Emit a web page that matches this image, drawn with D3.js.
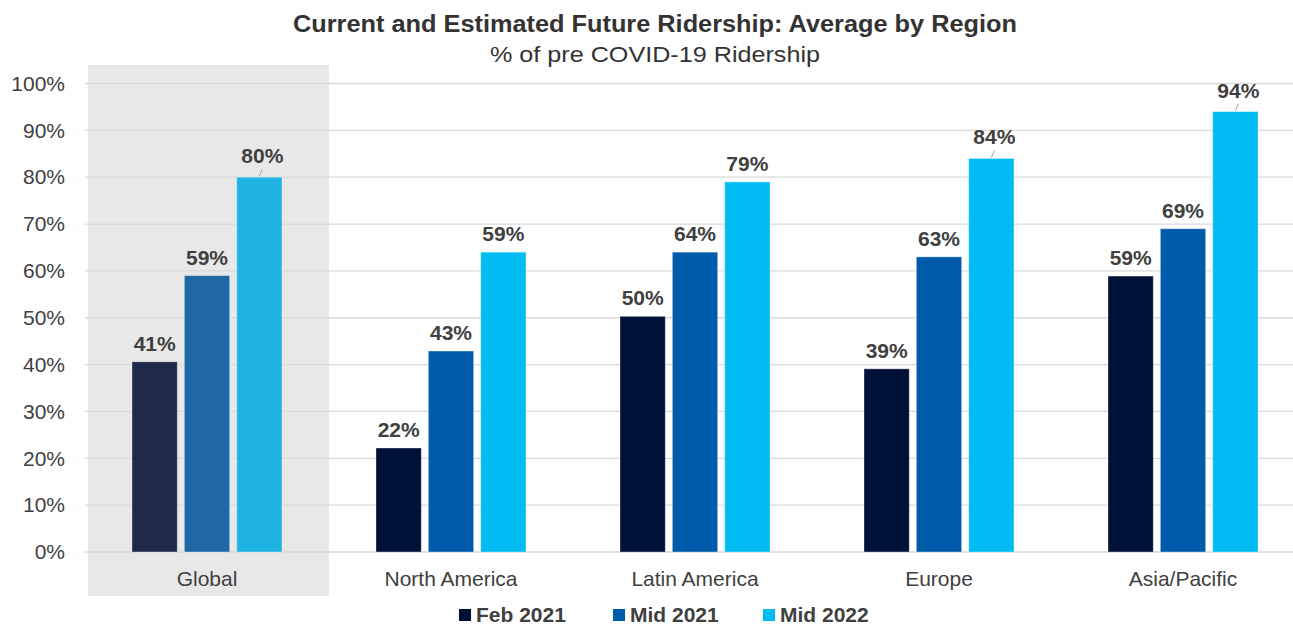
<!DOCTYPE html>
<html>
<head>
<meta charset="utf-8">
<script src="https://cdn.jsdelivr.net/npm/d3@7"></script>
<style>
  body { margin: 0; background: #fff; }
  text { font-family: Arial, "Liberation Sans", sans-serif; }
</style>
</head>
<body>
<svg id="viz"></svg>
<script>
const width = 1293;
const height = 626;

// data
const regions = ["Global", "North America", "Latin America", "Europe", "Asia/Pacific"];
const series = ["Feb 2021", "Mid 2021", "Mid 2022"];
const feb2021 = [40.6, 22.2, 50.3, 39.1, 58.9];
const mid2021 = [59, 42.9, 64, 63, 69];
const mid2022 = [80, 64, 79, 84, 94];
const feb2021Labels = ["41%", "22%", "50%", "39%", "59%"];
const mid2021Labels = ["59%", "43%", "64%", "63%", "69%"];
const mid2022Labels = ["80%", "59%", "79%", "84%", "94%"];
const yTicks = [0, 10, 20, 30, 40, 50, 60, 70, 80, 90, 100];

const colors = ["#001137", "#005cab", "#00bcf2"];
const globalColors = ["#1f2a4a", "#1f67a5", "#1fb4e1"];
const leaderRegions = ["Global", "Europe", "Asia/Pacific"];

const values = [feb2021, mid2021, mid2022];
const labels = [feb2021Labels, mid2021Labels, mid2022Labels];

const rows = [];
regions.forEach(function (r, i) {
    series.forEach(function (s, j) {
        rows.push({ region: r, series: s, si: j, value: values[j][i], label: labels[j][i] });
    });
});

const svg = d3.select("#viz").attr("width", width).attr("height", height);

const x0 = d3.scaleBand().domain(regions).range([85, 1305]).padding(0);
const x1 = d3.scaleBand().domain(series).range([47, 197]).paddingInner(0.135).paddingOuter(0);
const y = d3.scaleLinear().domain([0, 100]).range([552, 83.5]);

// shaded Global panel
svg.append("rect")
    .attr("x", x0("Global") + 3)
    .attr("y", 65)
    .attr("width", x0.bandwidth() - 3)
    .attr("height", 531)
    .attr("fill", "#e8e8e8");

// gridlines
svg.append("g")
    .selectAll("line")
    .data(yTicks)
    .enter()
    .append("line")
    .attr("x1", 85)
    .attr("x2", width)
    .attr("y1", function (d) { return y(d); })
    .attr("y2", function (d) { return y(d); })
    .attr("stroke", "#d9d9d9")
    .attr("stroke-width", 1.3);

// y axis labels
const yAxis = d3.axisLeft(y).tickValues(yTicks).tickSize(0).tickPadding(0)
    .tickFormat(function (d) { return d + "%"; });
svg.append("g")
    .attr("transform", "translate(65,0)")
    .call(yAxis)
    .call(function (g) { g.select(".domain").remove(); })
    .selectAll("text")
    .attr("font-size", 21)
    .attr("font-family", "Arial, 'Liberation Sans', sans-serif")
    .attr("fill", "#404040");

// bars
const bars = svg.append("g");
bars.selectAll("rect")
    .data(rows)
    .enter()
    .append("rect")
    .attr("x", function (d) { return x0(d.region) + x1(d.series); })
    .attr("y", function (d) { return y(d.value); })
    .attr("width", x1.bandwidth())
    .attr("height", function (d) { return y(0) - y(d.value); })
    .attr("fill", function (d) { return d.region === "Global" ? globalColors[d.si] : colors[d.si]; })
    .attr("stroke", "rgba(255,255,255,0.35)")
    .attr("stroke-width", 1);

function hasLeader(d) {
    return d.si === 2 && leaderRegions.indexOf(d.region) >= 0;
}

// leader lines
svg.append("g")
    .selectAll("line")
    .data(rows.filter(hasLeader))
    .enter()
    .append("line")
    .attr("x1", function (d) { return x0(d.region) + x1(d.series) + x1.bandwidth() / 2; })
    .attr("y1", function (d) { return y(d.value) - 1; })
    .attr("x2", function (d) { return x0(d.region) + x1(d.series) + x1.bandwidth() / 2 + 3; })
    .attr("y2", function (d) { return y(d.value) - 8; })
    .attr("stroke", "#a6a6a6")
    .attr("stroke-width", 1);

// value labels
svg.append("g")
    .selectAll("text")
    .data(rows)
    .enter()
    .append("text")
    .attr("x", function (d) {
        return x0(d.region) + x1(d.series) + x1.bandwidth() / 2 + (hasLeader(d) ? 3 : 0);
    })
    .attr("y", function (d) { return y(d.value) - (hasLeader(d) ? 14 : 11); })
    .attr("text-anchor", "middle")
    .attr("font-size", 21)
    .attr("font-weight", "bold")
    .attr("fill", "#404040")
    .text(function (d) { return d.label; });

// category labels
svg.append("g")
    .selectAll("text")
    .data(regions)
    .enter()
    .append("text")
    .attr("x", function (d) { return x0(d) + x0.bandwidth() / 2; })
    .attr("y", 586)
    .attr("text-anchor", "middle")
    .attr("font-size", 21)
    .attr("fill", "#404040")
    .text(function (d) { return d; });

// title
svg.append("text")
    .attr("x", 655)
    .attr("y", 32)
    .attr("text-anchor", "middle")
    .attr("font-size", 23)
    .attr("font-weight", "bold")
    .attr("fill", "#333333")
    .attr("textLength", 724)
    .attr("lengthAdjust", "spacingAndGlyphs")
    .text("Current and Estimated Future Ridership: Average by Region");

svg.append("text")
    .attr("x", 655)
    .attr("y", 62)
    .attr("text-anchor", "middle")
    .attr("font-size", 22)
    .attr("fill", "#333333")
    .attr("textLength", 330)
    .attr("lengthAdjust", "spacingAndGlyphs")
    .text("% of pre COVID-19 Ridership");

// legend
const legendX = [459, 613, 763];
const legend = svg.append("g")
    .selectAll("g")
    .data(series)
    .enter()
    .append("g")
    .attr("transform", function (d, i) { return "translate(" + legendX[i] + ",609)"; });
legend.append("rect")
    .attr("width", 12)
    .attr("height", 12)
    .attr("fill", function (d, i) { return colors[i]; });
legend.append("text")
    .attr("x", 17)
    .attr("y", 13)
    .attr("font-size", 21)
    .attr("font-weight", "bold")
    .attr("fill", "#404040")
    .text(function (d) { return d; });
</script>
</body>
</html>
